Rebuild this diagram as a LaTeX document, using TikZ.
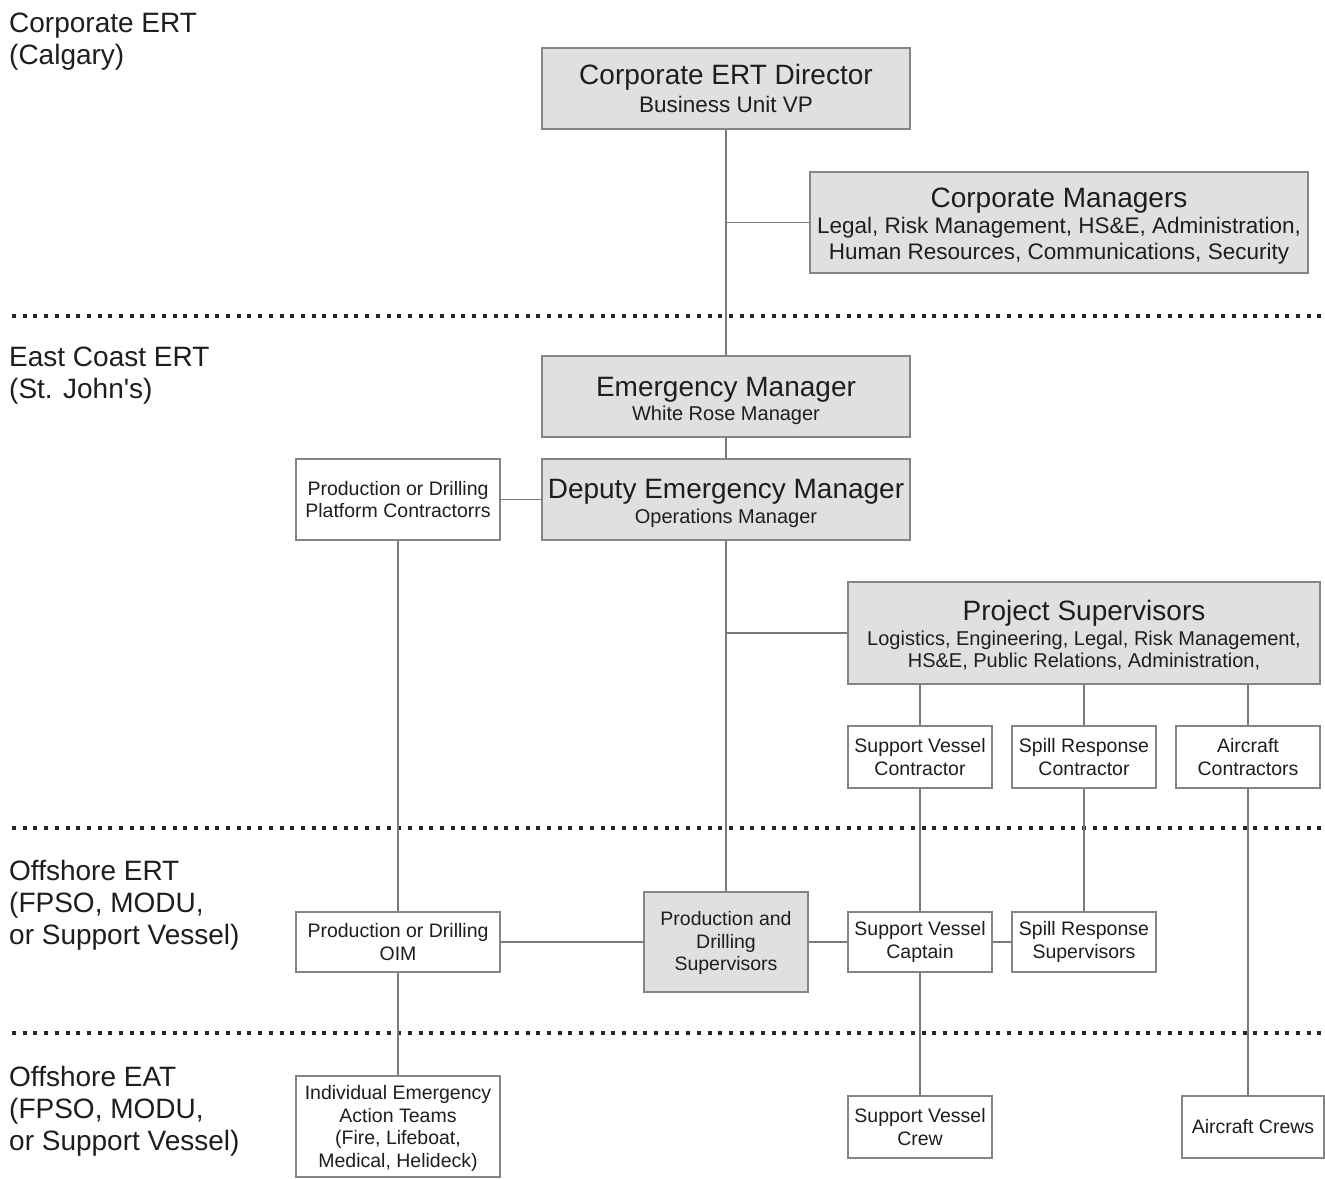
\documentclass[tikz,border=0pt]{standalone}
\usepackage{fontspec}
\setmainfont{Liberation Sans}[Ligatures=TeXOff]
\definecolor{bordc}{HTML}{858585}
\definecolor{linec}{HTML}{7A7A7A}
\definecolor{fillc}{HTML}{E0E0E0}
\definecolor{txtc}{HTML}{1E1E1E}
\newcommand\ttlfont{\fontsize{28}{30}\selectfont}
\newcommand\subfont{\fontsize{20}{25}\selectfont}
\newcommand\csubfont{\fontsize{22.5}{25}\selectfont}
\newcommand\smfont{\fontsize{19.5}{22.5}\selectfont}
\newcommand\tallstrut[1]{\rule{0pt}{#1}}
\begin{document}
\begin{tikzpicture}[x=1pt,y=-1pt,
  boxbase/.style={draw=bordc, line width=1.6pt, inner sep=0pt, align=center, text=txtc},
  gbox/.style={boxbase, fill=fillc},
  wbox/.style={boxbase, fill=white, font=\smfont},
  conn/.style={draw=linec, line width=1.8pt},
  dotline/.style={draw=black!85, line width=4pt, dash pattern=on 4pt off 6.7pt},
  tier/.style={anchor=north west, inner sep=0pt, align=left, text=txtc, font=\fontsize{28}{32}\selectfont}]
\useasboundingbox (0,0) rectangle (1325,1178);
\fill[white] (0,0) rectangle (1325,1178);

% tier separators
\draw[dotline] (12,316) -- (1322,316);
\draw[dotline] (12,828) -- (1322,828);
\draw[dotline] (12,1033) -- (1322,1033);

% tier labels
\node[tier] (t1) at (9,12.5) {Corporate ERT\\(Calgary)};
\node[tier] (t2) at (9,346.5) {East Coast ERT\\(St. John's)};
\node[tier] (t3) at (9,859.5) {Offshore ERT\\(FPSO, MODU,\\or Support Vessel)};
\node[tier] (t4) at (9,1065.5) {Offshore EAT\\(FPSO, MODU,\\or Support Vessel)};

% boxes
\node[gbox, minimum width=368, minimum height=81] (dir) at (726,88.5)
  {\ttlfont Corporate ERT Director\\[4pt]\csubfont Business Unit VP};
\node[gbox, minimum width=498, minimum height=101] (cm) at (1059,222.5)
  {\ttlfont\tallstrut{27pt}Corporate Managers\\[3pt]\csubfont Legal, Risk Management, HS\&E, Administration,\\[4pt]\csubfont Human Resources, Communications, Security};
\node[gbox, minimum width=368, minimum height=81] (em) at (726,396.5)
  {\ttlfont\tallstrut{28pt}Emergency Manager\\[3.5pt]\subfont White Rose Manager};
\node[gbox, minimum width=368, minimum height=81] (dem) at (726,499.5)
  {\ttlfont\tallstrut{27pt}Deputy Emergency Manager\\[3.5pt]\subfont Operations Manager};
\node[wbox, minimum width=204, minimum height=81] (pc) at (398,499.5)
  {Production or Drilling\\Platform Contractorrs};
\node[gbox, minimum width=472, minimum height=102] (ps) at (1084,633)
  {\ttlfont\tallstrut{25pt}Project Supervisors\\[3pt]\subfont Logistics, Engineering, Legal, Risk Management,\\[3pt]\subfont HS\&E, Public Relations, Administration,};
\node[wbox, minimum width=144, minimum height=62] (svc) at (920,757) {Support Vessel\\Contractor};
\node[wbox, minimum width=144, minimum height=62] (src) at (1084,757) {Spill Response\\Contractor};
\node[wbox, minimum width=144, minimum height=62] (ac) at (1248,757) {Aircraft\\Contractors};
\node[wbox, minimum width=204, minimum height=60] (oim) at (398,942) {Production or Drilling\\OIM};
\node[gbox, font=\smfont, minimum width=164, minimum height=100] (pds) at (726,942) {\tallstrut{17pt}Production and\\Drilling\\Supervisors};
\node[wbox, minimum width=144, minimum height=60] (svcap) at (920,942) {Support Vessel\\Captain};
\node[wbox, minimum width=144, minimum height=60] (srs) at (1084,942) {Spill Response\\Supervisors};
\node[wbox, minimum width=204, minimum height=101] (ieat) at (398,1126.5)
  {\tallstrut{18pt}Individual Emergency\\Action Teams\\(Fire, Lifeboat,\\Medical, Helideck)};
\node[wbox, minimum width=144, minimum height=62] (svcrew) at (920,1127) {Support Vessel\\Crew};
\node[wbox, minimum width=142, minimum height=62] (acrew) at (1253,1127) {Aircraft Crews};

% connectors
\draw[conn] (dir.south) -- (em.north);
\draw[conn] (dir.south |- cm.west) -- (cm.west);
\draw[conn] (em.south) -- (dem.north);
\draw[conn] (pc.east) -- (dem.west);
\draw[conn] (pc.south) -- (oim.north);
\draw[conn] (dem.south) -- (pds.north);
\draw[conn] (dem.south |- ps.west) -- (ps.west);
\draw[conn] (ps.south -| svc.north) -- (svc.north);
\draw[conn] (ps.south -| src.north) -- (src.north);
\draw[conn] (ps.south -| ac.north) -- (ac.north);
\draw[conn] (svc.south) -- (svcap.north);
\draw[conn] (src.south) -- (srs.north);
\draw[conn] (ac.south) -- (ac.south |- acrew.north);
\draw[conn] (oim.east) -- (pds.west);
\draw[conn] (pds.east) -- (svcap.west);
\draw[conn] (svcap.east) -- (srs.west);
\draw[conn] (oim.south) -- (ieat.north);
\draw[conn] (svcap.south) -- (svcrew.north);
\end{tikzpicture}
\end{document}
